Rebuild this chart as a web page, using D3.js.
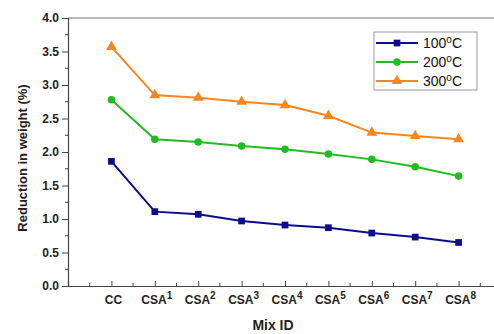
<!DOCTYPE html>
<html>
<head>
<meta charset="utf-8">
<script src="https://cdn.jsdelivr.net/npm/d3@7"></script>
<style>
  body { margin: 0; background: #fff; }
  svg { display: block; font-family: "Liberation Sans", Arial, sans-serif; }
</style>
</head>
<body>
<svg id="chart" width="494" height="334"></svg>
<script>
// data
var mixIds = ["CC", "CSA1", "CSA2", "CSA3", "CSA4", "CSA5", "CSA6", "CSA7", "CSA8"];
var t100 = [1.86, 1.11, 1.07, 0.97, 0.91, 0.87, 0.79, 0.73, 0.65];
var t200 = [2.78, 2.19, 2.15, 2.09, 2.04, 1.97, 1.89, 1.78, 1.64];
var t300 = [3.57, 2.85, 2.81, 2.75, 2.70, 2.54, 2.29, 2.24, 2.19];
var seriesNames = ["100", "200", "300"];
var yTicks = [0, 0.5, 1, 1.5, 2, 2.5, 3, 3.5, 4];

var svg = d3.select("#chart");

var x = d3.scaleLinear().domain([-1, 9]).range([68, 502]);
var y = d3.scaleLinear().domain([0, 4]).range([286, 18]);

var series = [
    { name: seriesNames[0], values: t100, color: "#0d0d8a", shape: "square" },
    { name: seriesNames[1], values: t200, color: "#22bb22", shape: "circle" },
    { name: seriesNames[2], values: t300, color: "#f7861e", shape: "triangle" }
];

// top frame line
svg.append("line")
    .attr("x1", 68).attr("x2", 494)
    .attr("y1", y(4)).attr("y2", y(4))
    .attr("stroke", "#777").attr("stroke-width", 1.2);

// y axis
var yAxis = svg.append("g")
    .attr("transform", "translate(68,0)")
    .call(d3.axisLeft(y).tickValues(yTicks).tickFormat(d3.format(".1f")).tickSize(6).tickPadding(3));
yAxis.select(".domain").attr("stroke", "#444").attr("stroke-width", 1.2);
yAxis.selectAll(".tick line").attr("stroke", "#444");
yAxis.selectAll("text").attr("font-size", 12).attr("font-weight", "bold").attr("fill", "#222")
    .attr("font-family", "Liberation Sans, Arial, sans-serif");

// y minor ticks
svg.append("g")
    .selectAll("line")
    .data(d3.range(0.25, 4, 0.5))
    .enter().append("line")
    .attr("x1", 65).attr("x2", 68)
    .attr("y1", d => y(d)).attr("y2", d => y(d))
    .attr("stroke", "#444");

// x axis (ticks point inward)
var xAxis = svg.append("g")
    .attr("transform", "translate(0," + y(0) + ")")
    .call(d3.axisBottom(x).tickValues(d3.range(0, 9)).tickSize(-5).tickFormat(""));
xAxis.select(".domain").attr("stroke", "#444").attr("stroke-width", 1.2);
xAxis.selectAll(".tick line").attr("stroke", "#444");

svg.append("g")
    .selectAll("line")
    .data(d3.range(-0.5, 9, 1))
    .enter().append("line")
    .attr("x1", d => x(d)).attr("x2", d => x(d))
    .attr("y1", y(0)).attr("y2", y(0) - 3)
    .attr("stroke", "#444");

// x tick labels with superscript number
var xl = svg.append("g")
    .selectAll("text")
    .data(mixIds)
    .enter().append("text")
    .attr("x", (d, i) => x(i) + 2)
    .attr("y", 304)
    .attr("text-anchor", "middle")
    .attr("font-size", 12)
    .attr("font-weight", "bold")
    .attr("fill", "#222");
xl.each(function(d) {
    var t = d3.select(this);
    var m = d.match(/^([A-Z]+)(\d*)$/);
    t.append("tspan").text(m[1]);
    if (m[2]) t.append("tspan").attr("dy", -5).attr("font-size", 10).text(m[2]);
});

// axis titles
svg.append("text")
    .attr("x", 273).attr("y", 330)
    .attr("text-anchor", "middle")
    .attr("font-size", 14).attr("font-weight", "bold").attr("fill", "#222")
    .text("Mix ID");

svg.append("text")
    .attr("transform", "translate(27,158) rotate(-90)")
    .attr("text-anchor", "middle")
    .attr("font-size", 13).attr("font-weight", "bold").attr("fill", "#222")
    .text("Reduction in weight (%)");

// lines
var line = d3.line().x((d, i) => x(i)).y(d => y(d));

var symbolFor = {
    square: d3.symbol().type(d3.symbolSquare).size(45),
    circle: d3.symbol().type(d3.symbolCircle).size(45),
    triangle: d3.symbol().type(d3.symbolTriangle).size(50)
};

series.forEach(function(s) {
    svg.append("path")
        .datum(s.values)
        .attr("d", line)
        .attr("fill", "none")
        .attr("stroke", s.color)
        .attr("stroke-width", 2);

    svg.append("g")
        .selectAll("path")
        .data(s.values)
        .enter().append("path")
        .attr("d", symbolFor[s.shape])
        .attr("transform", (d, i) => "translate(" + x(i) + "," + y(d) + ")")
        .attr("fill", s.color);
});

// legend
var legend = svg.append("g");
legend.append("rect")
    .attr("x", 374).attr("y", 32)
    .attr("width", 103).attr("height", 58)
    .attr("fill", "#fff").attr("stroke", "#999");

series.forEach(function(s, i) {
    var ly = 43 + i * 19;
    legend.append("line")
        .attr("x1", 376).attr("x2", 418)
        .attr("y1", ly).attr("y2", ly)
        .attr("stroke", s.color).attr("stroke-width", 2);
    legend.append("path")
        .attr("d", symbolFor[s.shape])
        .attr("transform", "translate(397," + ly + ")")
        .attr("fill", s.color);
    var txt = legend.append("text")
        .attr("x", 423).attr("y", ly + 5)
        .attr("font-size", 14).attr("fill", "#111");
    txt.append("tspan").text(s.name);
    txt.append("tspan").attr("dy", -5).attr("font-size", 10).text("o");
    txt.append("tspan").attr("dy", 5).text("C");
});
</script>
</body>
</html>
